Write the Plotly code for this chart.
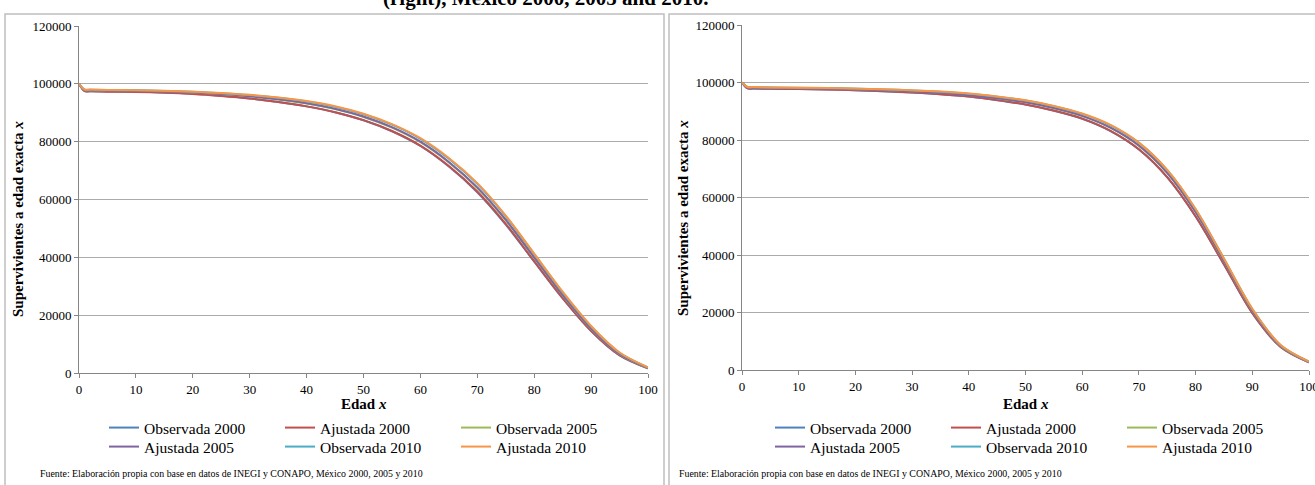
import plotly.graph_objects as go

# ---------------- data ----------------
ages = [0, 1, 2, 5, 10, 15, 20, 25, 30, 35, 40, 45, 50, 55, 60, 65, 70, 75, 80, 85, 90, 95, 100]
series_names = ["Observada 2000", "Ajustada 2000", "Observada 2005",
                "Ajustada 2005", "Observada 2010", "Ajustada 2010"]
colors = ["#4F81BD", "#C0504D", "#9BBB59", "#8064A2", "#4BACC6", "#F79646"]

# left panel
m_obs2000 = [100000, 97500, 97450, 97350, 97250, 97000, 96550, 95850, 94950, 93750, 92200, 90200, 87400, 83600, 78500, 71400, 62500, 51300, 38500, 25800, 14500, 6100, 1600]
m_adj2000 = [100000, 97450, 97400, 97300, 97200, 96950, 96500, 95800, 94900, 93700, 92200, 90200, 87450, 83700, 78650, 71600, 62750, 51550, 38700, 25950, 14600, 6150, 1600]
m_obs2005 = [100000, 97850, 97800, 97700, 97600, 97400, 97000, 96450, 95700, 94600, 93200, 91250, 88550, 84850, 79800, 72800, 64000, 52800, 39800, 26850, 15300, 6550, 1800]
m_adj2005 = [100000, 97800, 97750, 97650, 97550, 97350, 97000, 96450, 95700, 94650, 93300, 91400, 88700, 85000, 80000, 73000, 64200, 53000, 40000, 27000, 15400, 6600, 1800]
m_obs2010 = [100000, 98000, 97950, 97850, 97750, 97550, 97250, 96750, 96100, 95150, 93900, 92100, 89500, 85900, 81000, 74100, 65400, 54200, 41100, 27900, 16100, 7000, 1900]
m_adj2010 = [100000, 98050, 98000, 97900, 97800, 97600, 97300, 96850, 96200, 95250, 94050, 92250, 89650, 86050, 81200, 74350, 65650, 54450, 41300, 28100, 16250, 7100, 1950]

# right panel
f_obs2000 = [100000, 97950, 97900, 97800, 97700, 97550, 97300, 96950, 96500, 95900, 95100, 93850, 92300, 90200, 87400, 83100, 76700, 67000, 53400, 36700, 19800, 8000, 2650]
f_adj2000 = [100000, 97950, 97900, 97800, 97700, 97550, 97300, 96970, 96520, 95920, 95120, 93900, 92350, 90250, 87450, 83200, 76800, 67100, 53500, 36800, 19850, 8000, 2650]
f_obs2005 = [100000, 98300, 98250, 98150, 98050, 97900, 97650, 97350, 96950, 96400, 95650, 94500, 93100, 91050, 88300, 84200, 77950, 68450, 54850, 37900, 20600, 8350, 2800]
f_adj2005 = [100000, 98250, 98200, 98100, 98000, 97850, 97600, 97300, 96900, 96350, 95600, 94500, 93100, 91100, 88400, 84300, 78100, 68600, 55000, 38000, 20700, 8400, 2800]
f_obs2010 = [100000, 98400, 98350, 98250, 98150, 98050, 97850, 97600, 97250, 96750, 96100, 95050, 93700, 91750, 89100, 85100, 79000, 69500, 55900, 38700, 21200, 8650, 2900]
f_adj2010 = [100000, 98450, 98400, 98300, 98200, 98100, 97900, 97650, 97300, 96850, 96200, 95150, 93800, 91850, 89200, 85250, 79100, 69600, 56000, 38800, 21300, 8700, 2950]

x_ticks = [0, 10, 20, 30, 40, 50, 60, 70, 80, 90, 100]
y_ticks = [0, 20000, 40000, 60000, 80000, 100000, 120000]

left_data = [m_obs2000, m_adj2000, m_obs2005, m_adj2005, m_obs2010, m_adj2010]
right_data = [f_obs2000, f_adj2000, f_obs2005, f_adj2005, f_obs2010, f_adj2010]

y_title = "<b>Supervivientes a edad exacta <i>x</i></b>"
x_title = "<b>Edad <i>x</i></b>"
source = "Fuente: Elaboración propia con base en datos de INEGI y CONAPO, México 2000, 2005 y 2010"
top_text = "<b>(right), México 2000, 2005 and 2010.</b>"

# ---------------- layout helpers ----------------
W, H = 1315, 485
def px(x):
    return x / W
def py(y):
    return 1 - y / H

FONT = "Liberation Serif, Times New Roman, serif"
fig = go.Figure()

legend_ids = ["legend", "legend2", "legend3", "legend4"]
for panel, (data, xa, ya) in enumerate([(left_data, "x", "y"), (right_data, "x2", "y2")]):
    for i, (name, vals) in enumerate(zip(series_names, data)):
        fig.add_trace(go.Scatter(
            x=ages, y=vals, mode="lines", name=name,
            line=dict(color=colors[i], width=2, shape="spline", smoothing=0.9),
            xaxis=xa, yaxis=ya, legend=legend_ids[panel * 2 + i // 3],
            hoverinfo="skip"))

axis_common = dict(showline=True, linecolor="#868686", linewidth=1,
                   ticks="outside", ticklen=4, tickcolor="#868686",
                   zeroline=False, automargin=False, ticklabeloverflow="allow",
                   tickfont=dict(family=FONT, size=13, color="black"))

xa_common = dict(axis_common, range=[0, 100], tickvals=x_ticks, showgrid=False)
ya_common = dict(axis_common, range=[0, 120000], tickvals=y_ticks, showgrid=True,
                 gridcolor="#ABABAB", gridwidth=1, tickformat="d")

fig.update_layout(
    width=W, height=H, autosize=False,
    margin=dict(l=0, r=0, t=0, b=0, pad=0, autoexpand=False),
    paper_bgcolor="white", plot_bgcolor="white",
    font=dict(family=FONT, color="black"),
    showlegend=True,
    xaxis=dict(xa_common, domain=[px(79), px(648)], anchor="y"),
    yaxis=dict(ya_common, domain=[py(373), py(26)], anchor="x"),
    xaxis2=dict(xa_common, domain=[px(742), px(1309)], anchor="y2"),
    yaxis2=dict(ya_common, domain=[py(370), py(25)], anchor="x2"),
)

leg_common = dict(orientation="h", xanchor="left", yanchor="middle",
                  entrywidth=131, entrywidthmode="pixels", itemwidth=30,
                  bgcolor="rgba(0,0,0,0)", borderwidth=0,
                  font=dict(family=FONT, size=15.5, color="black"))
fig.update_layout(
    legend=dict(leg_common, x=px(104), y=py(428)),
    legend2=dict(leg_common, x=px(104), y=py(447)),
    legend3=dict(leg_common, x=px(770), y=py(428)),
    legend4=dict(leg_common, x=px(770), y=py(447)),
)

# panel frames
fig.add_shape(type="rect", xref="paper", yref="paper",
              x0=px(5), x1=px(664), y0=py(490), y1=py(14),
              line=dict(color="#BFBFBF", width=1.5), layer="below")
fig.add_shape(type="rect", xref="paper", yref="paper",
              x0=px(669), x1=px(1320), y0=py(490), y1=py(14),
              line=dict(color="#BFBFBF", width=1.5), layer="below")

# axis titles
for xc, yc in ((18, 219), (683, 218)):
    fig.add_annotation(text=y_title, xref="paper", yref="paper", x=px(xc), y=py(yc),
                       xanchor="center", yanchor="middle", textangle=-90, showarrow=False,
                       font=dict(family=FONT, size=15, color="black"))
for xc in (363.5, 1025.5):
    fig.add_annotation(text=x_title, xref="paper", yref="paper", x=px(xc), y=py(404),
                       xanchor="center", yanchor="middle", showarrow=False,
                       font=dict(family=FONT, size=15, color="black"))

# source notes
for xs in (38, 677):
    fig.add_annotation(text=source, xref="paper", yref="paper",
                       x=px(xs), y=py(473), xanchor="left", yanchor="middle",
                       showarrow=False, font=dict(family=FONT, size=9.9, color="black"))

# partially visible caption at the top
fig.add_annotation(text=top_text, xref="paper", yref="paper",
                   x=px(545), y=py(-2), xanchor="center", yanchor="middle",
                   showarrow=False, font=dict(family=FONT, size=21, color="black"))

fig.write_html("out.html", config={"displayModeBar": False},
               post_script="document.body.style.margin='0px';document.body.style.overflow='hidden';")
